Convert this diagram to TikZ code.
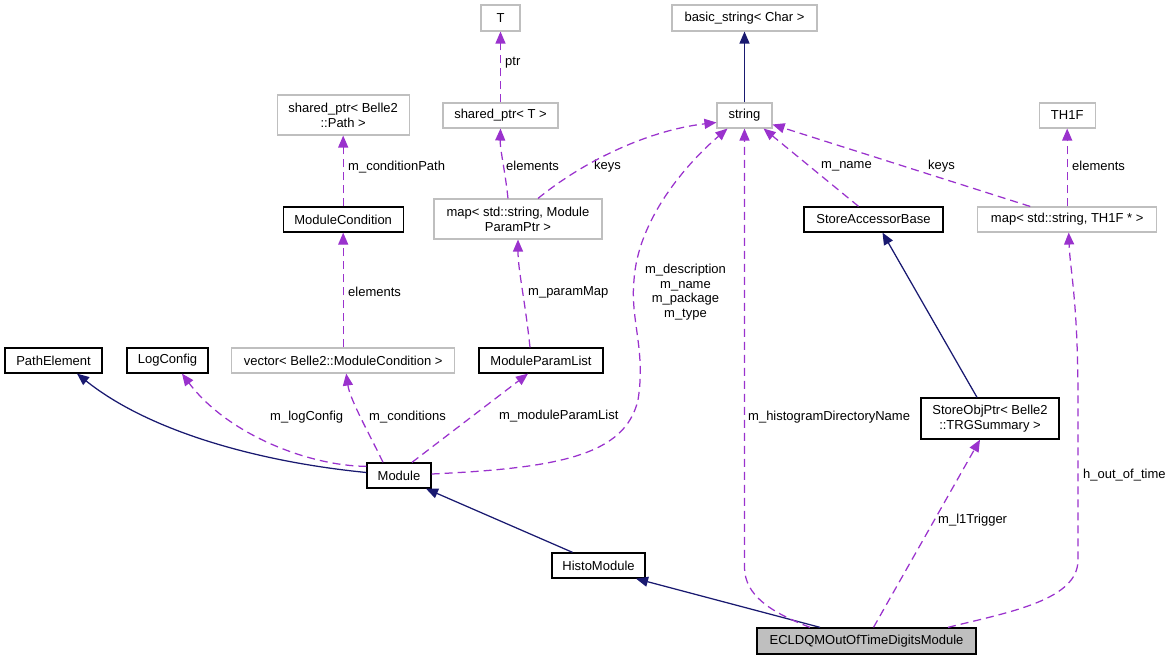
\documentclass[tikz,border=0pt]{standalone}
\usepackage{fontspec}
\setmainfont{Liberation Sans}
\usetikzlibrary{arrows.meta}
\definecolor{navyedge}{HTML}{191970}
\definecolor{purpedge}{HTML}{9A32CD}
\definecolor{graybox}{HTML}{BFBFBF}
\begin{document}
\begin{tikzpicture}[x=1pt,y=-1pt,
  every node/.style={font=\fontsize{13}{15}\selectfont},
  cls/.style={draw=black,line width=1.3pt,minimum height=25pt,inner sep=0pt,align=center},
  ext/.style={draw=graybox,line width=1.1pt,minimum height=25pt,inner sep=0pt,align=center},
  tall/.style={minimum height=40pt},
  inh/.style={draw=navyedge,line width=1.25pt,-{Triangle[length=12pt,width=10pt]}},
  usg/.style={draw=purpedge,line width=1.25pt,dash pattern=on 8pt off 5pt,-{Triangle[length=12pt,width=10pt]}},
  lbl/.style={anchor=west,inner sep=0pt,align=left},
]
\useasboundingbox (0,0) rectangle (1171,660);

% nodes
\node[cls,minimum width=97pt] (pe) at (53.5,360.5) {PathElement};
\node[cls,minimum width=81pt] (lc) at (167.5,360.5) {LogConfig};
\node[ext,minimum width=223pt] (vec) at (343.2,360.5) {vector< Belle2::ModuleCondition >};
\node[cls,minimum width=124pt] (mpl) at (541,360.5) {ModuleParamList};
\node[ext,tall,minimum width=132pt] (spp) at (343.2,115) {shared\_ptr< Belle2\\::Path >};
\node[cls,minimum width=120pt] (mc) at (343.2,219.5) {ModuleCondition};
\node[ext,minimum width=39pt,minimum height=26pt] (T) at (500.5,18) {T};
\node[ext,minimum width=115pt] (spT) at (500.5,115.5) {shared\_ptr< T >};
\node[ext,tall,minimum width=168pt] (mpp) at (518,219) {map< std::string, Module\\ParamPtr >};
\node[ext,minimum width=145pt,minimum height=26pt] (bs) at (744.5,18) {basic\_string< Char >};
\node[ext,minimum width=55pt] (str) at (744.5,115.5) {string};
\node[cls,minimum width=139pt] (sab) at (873.5,219.5) {StoreAccessorBase};
\node[ext,minimum width=179pt] (mth) at (1067.2,219.5) {map< std::string, TH1F * >};
\node[ext,minimum width=56pt] (th) at (1067.2,115.5) {TH1F};
\node[cls,minimum width=64pt] (mod) at (399,475.5) {Module};
\node[cls,tall,minimum width=138pt,minimum height=41pt] (sop) at (990,418.5) {StoreObjPtr< Belle2\\::TRGSummary >};
\node[cls,minimum width=93pt] (hm) at (598.5,565.5) {HistoModule};
\node[cls,fill=graybox,minimum width=219pt,minimum height=26pt] (ecl) at (866.5,641) {ECLDQMOutOfTimeDigitsModule};

% labels
\node[lbl] (l1) at (348,167) {m\_conditionPath};
\node[lbl] (l2) at (348,292) {elements};
\node[lbl] (l3) at (505,63) {ptr};
\node[lbl] (l4) at (506,166) {elements};
\node[lbl] (l5) at (594,166) {keys};
\node[lbl] (l6) at (821,166) {m\_name};
\node[lbl] (l7) at (928,166) {keys};
\node[lbl] (l8) at (1072,166) {elements};
\node[lbl] (l9) at (528,292) {m\_paramMap};
\node[align=center,inner sep=0pt,font=\fontsize{13}{14.5}\selectfont] (l10) at (685.5,292) {m\_description\\m\_name\\m\_package\\m\_type};
\node[lbl] (l11) at (270,417) {m\_logConfig};
\node[lbl] (l12) at (369,417) {m\_conditions};
\node[lbl] (l13) at (499,416) {m\_moduleParamList};
\node[lbl] (l14) at (748,417) {m\_histogramDirectoryName};
\node[lbl] (l15) at (938,520) {m\_l1Trigger};
\node[lbl] (l16) at (1083,475) {h\_out\_of\_time};

% inheritance edges
\draw[inh] ([yshift=3pt]mod.west) .. controls (260,462) and (150,432) .. ([xshift=23.5pt]pe.south);
\draw[inh] (str.north) -- (bs.south);
\draw[inh] ([xshift=-13pt]sop.north) -- ([xshift=9pt]sab.south);
\draw[inh] ([xshift=-26pt]hm.north) -- ([xshift=27pt]mod.south);
\draw[inh] ([xshift=-46.5pt]ecl.north) -- ([xshift=37.5pt]hm.south);

% usage edges
\draw[usg] ([yshift=-4pt]mod.north west) .. controls (310,466) and (228,435) .. ([xshift=14.5pt]lc.south);
\draw[usg] ([xshift=-16pt]mod.north) .. controls (370,435) and (350,400) .. ([xshift=3pt]vec.south);
\draw[usg] ([xshift=13pt]mod.north) -- ([xshift=-13pt]mpl.south);
\draw[usg] ([yshift=1.5pt]mod.east) .. controls (560,468) and (625,455) .. (638,400)
   .. controls (646,350) and (630,320) .. (634,280)
   .. controls (638,220) and (685,165) .. ([xshift=-17pt]str.south);
\draw[usg] (vec.north) -- (mc.south);
\draw[usg] (mc.north) -- (spp.south);
\draw[usg] ([xshift=-11pt]mpl.north) .. controls (525,300) and (518,270) .. (mpp.south);
\draw[usg] ([xshift=-10pt]mpp.north) .. controls (505,170) and (500,150) .. (spT.south);
\draw[usg] ([xshift=20pt]mpp.north) .. controls (585,160) and (650,130) .. ([yshift=-7pt]str.west);
\draw[usg] (spT.north) -- (T.south);
\draw[usg] ([xshift=-15pt]sab.north) -- ([xshift=19pt]str.south);
\draw[usg] ([xshift=-37pt]mth.north) -- ([yshift=-9pt]str.east);
\draw[usg] (mth.north) -- (th.south);
\draw[usg] ([xshift=-56.5pt]ecl.north) .. controls (770,612) and (745,595) .. (str.south |- 0,568) -- (str.south);
\draw[usg] ([xshift=7pt]ecl.north) -- ([xshift=-10pt]sop.south);
\draw[usg] ([xshift=81.5pt]ecl.north) .. controls (1010,612) and (1078,600) .. (1078,560)
   -- (1078,400) .. controls (1078,300) and (1070,270) .. ([xshift=1.5pt]mth.south);
\end{tikzpicture}
\end{document}
